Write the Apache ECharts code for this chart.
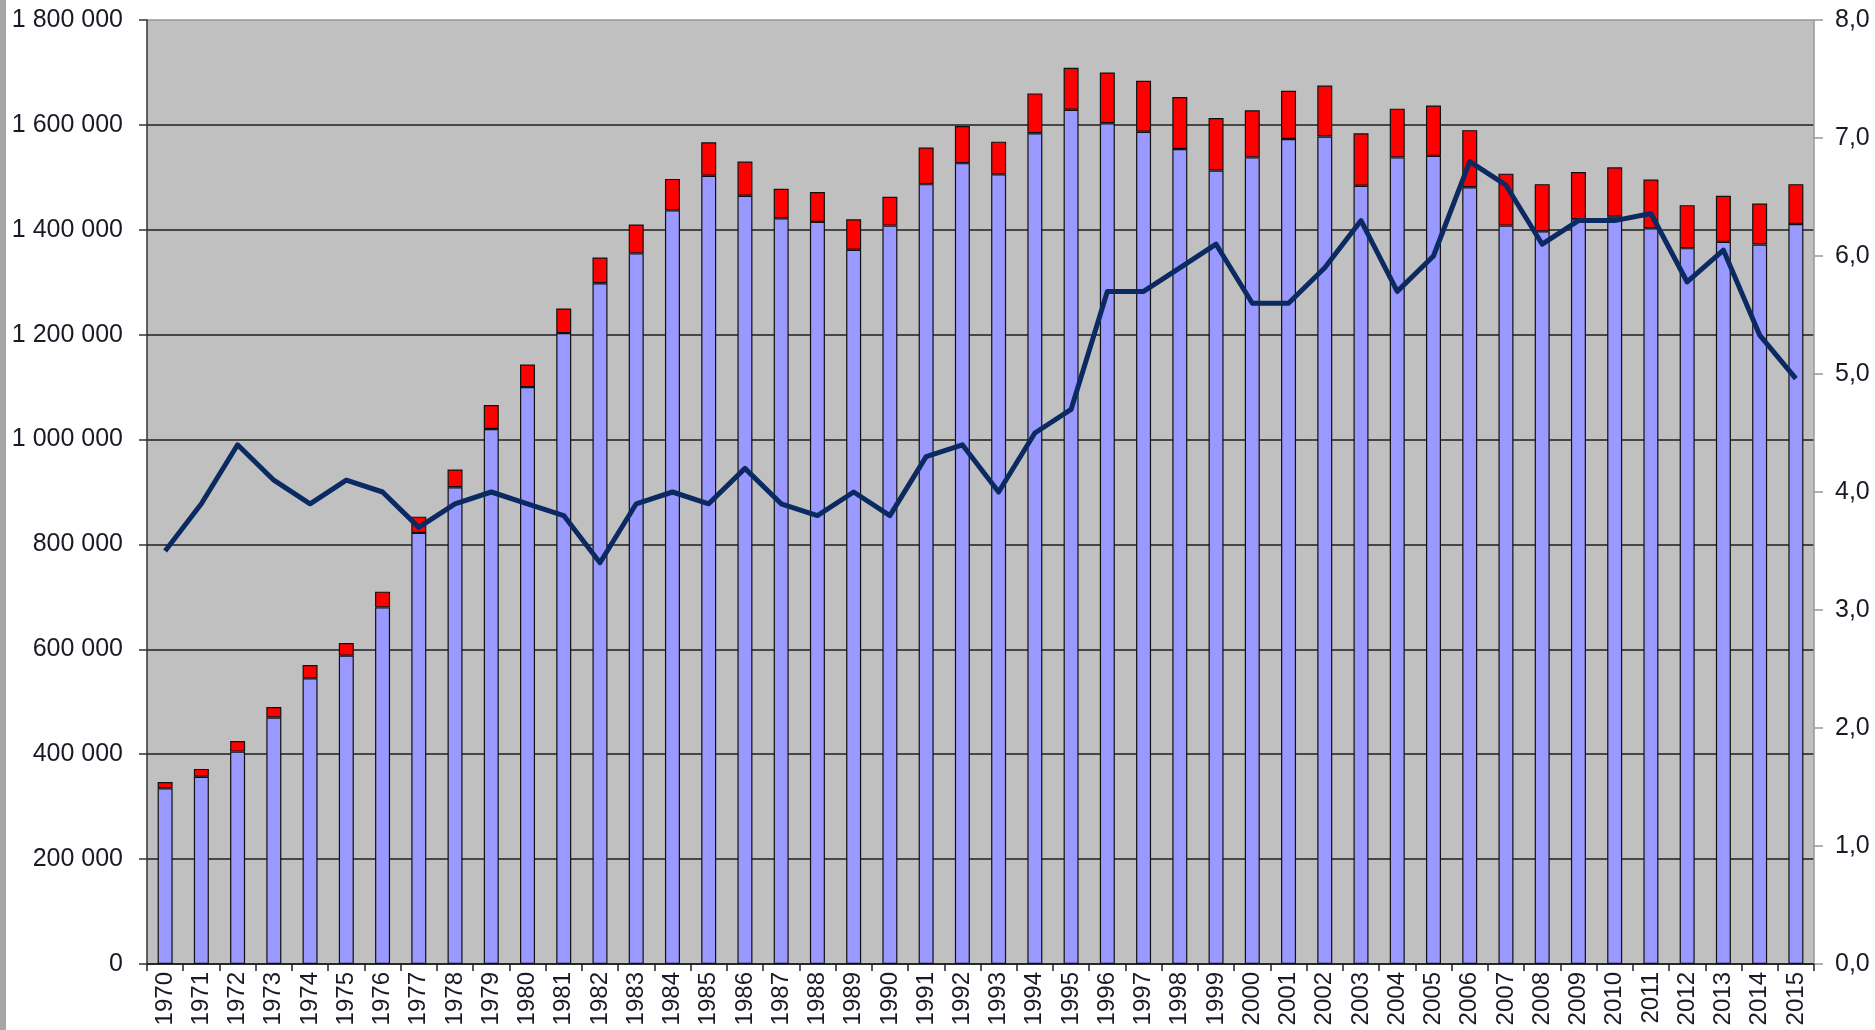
<!DOCTYPE html>
<html>
<head>
<meta charset="utf-8">
<script src="https://cdn.jsdelivr.net/npm/echarts@6/dist/echarts.min.js"></script>
<style>
html,body{margin:0;padding:0;background:#fff;}
#chart{width:1875px;height:1030px;}
</style>
</head>
<body>
<div id="chart"></div>
<script>
const years = ['1970','1971','1972','1973','1974','1975','1976','1977','1978','1979',
  '1980','1981','1982','1983','1984','1985','1986','1987','1988','1989',
  '1990','1991','1992','1993','1994','1995','1996','1997','1998','1999',
  '2000','2001','2002','2003','2004','2005','2006','2007','2008','2009',
  '2010','2011','2012','2013','2014','2015'];

// lower (blue) segment
const blueValues = [335000,357000,405000,470000,545000,588000,680000,822000,909000,1020000,
  1100000,1203000,1298000,1355000,1437000,1503000,1465000,1422000,1415000,1362000,
  1408000,1487000,1527000,1506000,1584000,1629000,1603000,1587000,1554000,1513000,
  1538000,1573000,1578000,1484000,1538000,1541000,1481000,1408000,1397000,1420000,
  1425000,1403000,1365000,1377000,1372000,1411000];

// upper (red) segment
const redValues = [12000,15000,20000,20000,25000,24000,30000,31000,34000,46000,
  43000,47000,49000,55000,60000,64000,65000,56000,57000,58000,
  55000,70000,71000,62000,76000,80000,97000,97000,99000,100000,
  90000,92000,97000,100000,93000,96000,109000,99000,90000,90000,
  94000,93000,82000,88000,78000,76000];

// line (right axis)
const lineValues = [3.5,3.9,4.4,4.1,3.9,4.1,4.0,3.7,3.9,4.0,
  3.9,3.8,3.4,3.9,4.0,3.9,4.2,3.9,3.8,4.0,
  3.8,4.3,4.4,4.0,4.5,4.7,5.7,5.7,5.9,6.1,
  5.6,5.6,5.9,6.3,5.7,6.0,6.8,6.6,6.1,6.3,
  6.3,6.36,5.78,6.05,5.33,4.96];

const leftMax = 1800000, leftInterval = 200000;
const rightMax = 8, rightInterval = 1;

const font = 'Liberation Sans, Arial, sans-serif';
const chart = echarts.init(document.getElementById('chart'));

const splitColors = [];
for (let i = 0; i < leftMax / leftInterval; i++) splitColors.push('#1e1e1e');
splitColors.push('#999999');

chart.setOption({
  animation: false,
  backgroundColor: '#ffffff',
  graphic: [{
    type: 'rect', left: 0, top: 0, z: 100,
    shape: {width: 6, height: 1030},
    style: {fill: '#a6a6a6'}
  }],
  grid: {
    left: 147, right: 61, top: 20, bottom: 66,
    show: true, backgroundColor: '#C0C0C0', borderWidth: 0
  },
  xAxis: {
    type: 'category',
    data: years,
    axisLine: {show: true, lineStyle: {color: '#1e1e1e', width: 1.5}},
    axisTick: {show: true, length: 7, lineStyle: {color: '#222', width: 1.5}},
    axisLabel: {
      rotate: 90, interval: 0, margin: 8, fontSize: 24,
      fontFamily: font, color: '#1a1a26'
    },
    splitLine: {show: false}
  },
  yAxis: [{
    type: 'value', position: 'left',
    min: 0, max: leftMax, interval: leftInterval,
    axisLine: {show: true, lineStyle: {color: '#333', width: 1.5}},
    axisTick: {show: true, length: 8, lineStyle: {color: '#333', width: 1.5}},
    axisLabel: {
      margin: 24, fontSize: 25, fontFamily: font, color: '#1a1a26',
      formatter: v => String(v).replace(/\B(?=(\d{3})+(?!\d))/g, ' ')
    },
    splitLine: {show: true, lineStyle: {color: splitColors, width: 1.5}}
  }, {
    type: 'value', position: 'right',
    min: 0, max: rightMax, interval: rightInterval,
    axisLine: {show: true, lineStyle: {color: '#999', width: 1.5}},
    axisTick: {show: true, length: 9, lineStyle: {color: '#999', width: 1.5}},
    axisLabel: {
      margin: 21, fontSize: 25, fontFamily: font, color: '#1a1a26',
      formatter: v => v.toFixed(1).replace('.', ',')
    },
    splitLine: {show: false}
  }],
  series: [{
    type: 'bar', stack: 'total', data: blueValues, barWidth: 15,
    itemStyle: {color: '#9999FF', borderColor: '#111', borderWidth: 1.2},
    z: 2
  }, {
    type: 'bar', stack: 'total', data: redValues, barWidth: 15,
    itemStyle: {color: '#FF0000', borderColor: '#111', borderWidth: 1.2},
    z: 2
  }, {
    type: 'line', yAxisIndex: 1, data: lineValues,
    showSymbol: false, symbol: 'none',
    lineStyle: {color: '#0c2a62', width: 5, join: 'round'},
    z: 5
  }]
});
</script>
</body>
</html>
